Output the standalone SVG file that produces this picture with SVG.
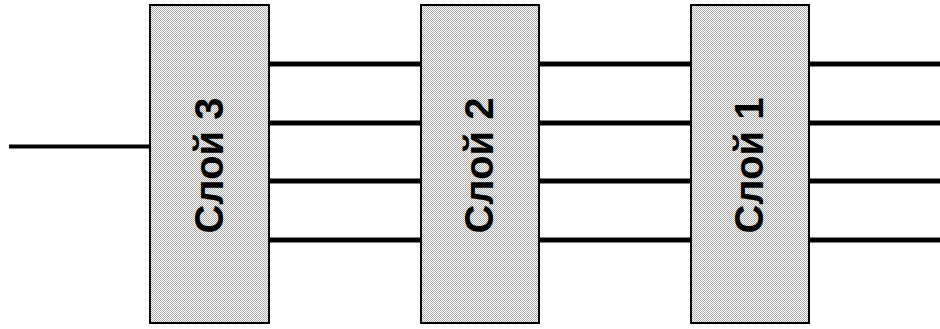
<svg xmlns="http://www.w3.org/2000/svg" width="940" height="329" viewBox="0 0 940 329">
  <style>
    .box { fill: url(#checker); stroke: #000; stroke-width: 2; }
    .lbl { font-family: "Liberation Sans", Arial, sans-serif; font-weight: bold; font-size: 40px; fill: #000; text-anchor: middle; }
    .wire { stroke: #000; stroke-width: 5; fill: none; }
  </style>
  <defs>
    <pattern id="checker" x="0" y="0" width="2" height="2" patternUnits="userSpaceOnUse">
      <rect width="2" height="2" fill="#ffffff"/>
      <rect x="0" y="0" width="1" height="1" fill="#ababab"/>
      <rect x="1" y="1" width="1" height="1" fill="#ababab"/>
    </pattern>
  </defs>
  <rect width="940" height="329" fill="#fff"/>
  <g id="connectors">
    <line class="wire" x1="9" y1="146.5" x2="151" y2="146.5" style="stroke-width:4"/>
    <line class="wire" x1="269" y1="64" x2="421" y2="64"/>
    <line class="wire" x1="269" y1="123" x2="421" y2="123"/>
    <line class="wire" x1="269" y1="181" x2="421" y2="181"/>
    <line class="wire" x1="269" y1="240" x2="421" y2="240"/>
    <line class="wire" x1="539" y1="64" x2="691" y2="64"/>
    <line class="wire" x1="539" y1="123" x2="691" y2="123"/>
    <line class="wire" x1="539" y1="181" x2="691" y2="181"/>
    <line class="wire" x1="539" y1="240" x2="691" y2="240"/>
    <line class="wire" x1="809" y1="64" x2="940" y2="64"/>
    <line class="wire" x1="809" y1="123" x2="940" y2="123"/>
    <line class="wire" x1="809" y1="181" x2="940" y2="181"/>
    <line class="wire" x1="809" y1="240" x2="940" y2="240"/>
  </g>
  <g id="layer3">
    <rect class="box" x="150" y="5" width="119" height="318"/>
    <text class="lbl" transform="translate(223,165.5) rotate(-90)">Слой 3</text>
  </g>
  <g id="layer2">
    <rect class="box" x="421" y="5" width="118" height="318"/>
    <text class="lbl" transform="translate(493,165.5) rotate(-90)">Слой 2</text>
  </g>
  <g id="layer1">
    <rect class="box" x="691" y="5" width="118" height="318"/>
    <text class="lbl" transform="translate(763,165.5) rotate(-90)">Слой 1</text>
  </g>
</svg>
